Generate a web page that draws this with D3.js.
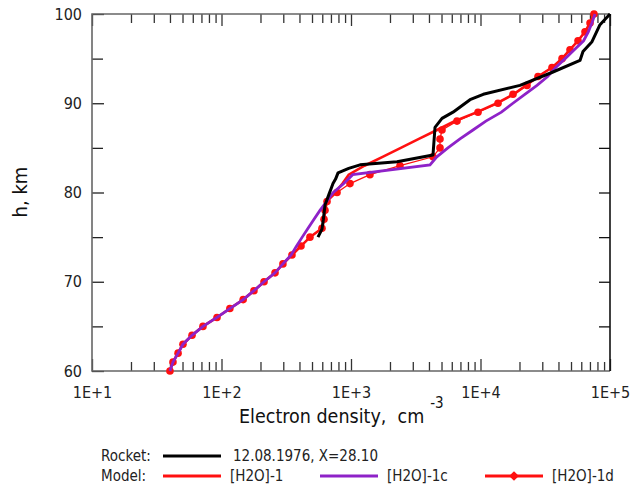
<!DOCTYPE html>
<html>
<head>
<meta charset="utf-8">
<script src="https://cdn.jsdelivr.net/npm/d3@7"></script>
<style>
  body { margin: 0; background: #fff; }
  svg { display: block; }
</style>
</head>
<body>
<div id="chart"></div>
<script>
// Rocket profile, 12.08.1976
const rocketH = [75.0, 75.9, 77.0, 78.6, 79.9, 80.5, 81.0, 81.5, 82.2, 82.7, 83.1, 83.45, 84.2, 87.3, 88.3, 89.0, 90.4, 91.0, 92.0, 93.5, 94.8, 95.8, 96.9, 98.8, 100];
const rocketN = [556, 597, 612, 630, 680, 705, 726, 760, 794, 960, 1174, 2266, 4297, 4453, 5043, 6133, 8298, 10500, 20180, 36290, 58660, 61870, 72610, 83700, 100000];

// Model [H2O]-1
const h2o1H = [60, 61, 62, 63, 64, 65, 66, 67, 68, 69, 70, 71, 72, 73, 74, 75, 76, 77, 78, 79, 80, 81, 82, 83, 84, 85, 86, 87, 88, 89, 90, 91, 92, 93, 94, 95, 96, 97, 98, 99, 100];
const h2o1N = [40, 42.2, 46.2, 50.4, 59.2, 71.9, 92.3, 116, 147, 178, 213, 259, 298, 350, 411, 482, 597, 619, 630, 653, 752, 860, 960, 1271, 1754, 2424, 3342, 4615, 6300, 9397, 13400, 18000, 22500, 27800, 35660, 42590, 49100, 56610, 64120, 70100, 75240];

// Model [H2O]-1c
const h2o1cH = [60, 61, 62, 63, 64, 65, 66, 67, 68, 69, 70, 71, 72, 73, 74, 75, 76, 77, 78, 79, 80, 81, 82, 83.1, 84, 85, 86, 87, 88, 89, 90, 91, 92, 93, 94, 95, 96, 97, 98, 99, 100];
const h2o1cN = [40, 42.2, 46.2, 50.4, 59.2, 71.9, 92.3, 116, 147, 178, 213, 259, 298, 345, 380, 420, 466, 518, 576, 650, 730, 880, 1030, 4074, 4600, 5600, 6945, 8750, 11000, 14500, 17800, 22000, 27300, 33000, 38100, 45000, 53000, 62500, 68000, 72500, 76580];

// Model [H2O]-1d (with markers)
const h2o1dH = [60, 61, 62, 63, 64, 65, 66, 67, 68, 69, 70, 71, 72, 73, 74, 75, 76, 77, 78, 79, 80, 81, 82, 83, 84, 85, 86, 87, 88, 89, 90, 91, 92, 93, 94, 95, 96, 97, 98, 99, 100];
const h2o1dN = [40, 42.2, 46.2, 50.4, 59.2, 71.9, 92.3, 116, 147, 178, 213, 259, 298, 350, 411, 482, 597, 619, 630, 653, 780, 982, 1400, 2390, 4297, 4867, 4867, 5043, 6584, 9566, 13650, 17820, 22870, 27800, 35660, 42590, 49100, 56610, 64120, 70100, 75240];

const xTickValues = [10, 100, 1000, 10000, 100000];
const xTickLabels = ["1E+1", "1E+2", "1E+3", "1E+4", "1E+5"];
const yTickValues = [60, 70, 80, 90, 100];
const yMinorTicks = [65, 75, 85, 95];

const FONT = '"DejaVu Sans Condensed", "DejaVu Sans", sans-serif';
const RED = "#ff1010", PURPLE = "#8e22c8";

const svg = d3.select("#chart").append("svg")
  .attr("width", 631)
  .attr("height", 493)
  .style("font-family", FONT);

const x = d3.scaleLog().domain([10, 1e5]).range([92, 610]);
const y = d3.scaleLinear().domain([60, 100]).range([371, 14]);

const xMinor = x.ticks().filter(d => !xTickValues.includes(d));

function styleAxis(g, stroke) {
  g.select(".domain").remove();
  g.selectAll(".tick line").attr("stroke", stroke).attr("stroke-width", 1.3);
  g.attr("font-family", FONT).attr("font-size", 16);
  g.selectAll(".tick text").attr("fill", "#222");
}

// bottom axis
svg.append("g")
  .attr("transform", `translate(0,${y(60)})`)
  .call(d3.axisBottom(x).tickValues(xMinor).tickSize(-9).tickFormat(""))
  .call(g => styleAxis(g, "#333"));
svg.append("g")
  .attr("transform", `translate(0,${y(60)})`)
  .call(d3.axisBottom(x).tickValues(xTickValues).tickSize(-12).tickPadding(16)
    .tickFormat((d, i) => xTickLabels[i]))
  .call(g => styleAxis(g, "#333"));

// top axis
svg.append("g")
  .attr("transform", `translate(0,${y(100)})`)
  .call(d3.axisTop(x).tickValues(xMinor).tickSize(-9).tickFormat(""))
  .call(g => styleAxis(g, "#333"));
svg.append("g")
  .attr("transform", `translate(0,${y(100)})`)
  .call(d3.axisTop(x).tickValues(xTickValues).tickSize(-12).tickFormat(""))
  .call(g => styleAxis(g, "#333"));

// left axis
svg.append("g")
  .attr("transform", `translate(${x(10)},0)`)
  .call(d3.axisLeft(y).tickValues(yTickValues).tickSize(-12).tickPadding(10).tickFormat(d3.format("d")))
  .call(g => styleAxis(g, "#222"));
svg.append("g")
  .attr("transform", `translate(${x(10)},0)`)
  .call(d3.axisLeft(y).tickValues(yMinorTicks).tickSize(-11).tickFormat(""))
  .call(g => styleAxis(g, "#222"));

// right axis
svg.append("g")
  .attr("transform", `translate(${x(1e5)},0)`)
  .call(d3.axisRight(y).tickValues(yMinorTicks.concat([70, 80, 90])).tickSize(-11).tickFormat(""))
  .call(g => styleAxis(g, "#111"));

// frame
svg.append("path")
  .attr("d", `M${x(1e5)},${y(100)}H${x(10)}V${y(60)}H${x(1e5)}`)
  .attr("fill", "none").attr("stroke", "#666").attr("stroke-width", 1.6);
svg.append("line")
  .attr("x1", x(1e5)).attr("x2", x(1e5)).attr("y1", y(100)).attr("y2", y(60))
  .attr("stroke", "#111").attr("stroke-width", 1.6);

const line = d3.line().x(d => x(d[1])).y(d => y(d[0]));

// [H2O]-1 (thick red)
svg.append("path")
  .datum(d3.zip(h2o1H, h2o1N))
  .attr("d", line).attr("fill", "none").attr("stroke", RED).attr("stroke-width", 2.6);

// [H2O]-1d (thin red + markers)
svg.append("path")
  .datum(d3.zip(h2o1dH, h2o1dN))
  .attr("d", line).attr("fill", "none").attr("stroke", RED).attr("stroke-width", 1.3);
svg.selectAll(".mk")
  .data(d3.zip(h2o1dH, h2o1dN))
  .enter().append("circle")
  .attr("class", "mk")
  .attr("cx", d => x(d[1])).attr("cy", d => y(d[0]))
  .attr("r", 3.8).attr("fill", RED);

// [H2O]-1c (purple)
svg.append("path")
  .datum(d3.zip(h2o1cH, h2o1cN))
  .attr("d", line).attr("fill", "none").attr("stroke", PURPLE).attr("stroke-width", 2.8);

// rocket (black)
svg.append("path")
  .datum(d3.zip(rocketH, rocketN))
  .attr("d", line).attr("fill", "none").attr("stroke", "#000").attr("stroke-width", 3)
  .attr("stroke-linejoin", "round");

// axis titles
svg.append("text")
  .attr("transform", "translate(27,192) rotate(-90)")
  .attr("text-anchor", "middle")
  .attr("font-size", 20)
  .attr("fill", "#111")
  .text("h, km");

const xt = svg.append("text")
  .attr("x", 239).attr("y", 423)
  .attr("font-size", 19.5)
  .attr("fill", "#111")
  .style("white-space", "pre");
xt.append("tspan").text("Electron density,  cm");
xt.append("tspan").attr("dx", 6).attr("dy", -15).attr("font-size", 15).text("-3");

// legend
const legendRows = ["Rocket:", "Model:"];
const legendItems = [
  { row: 0, x: 163, label: "12.08.1976, X=28.10", color: "#000", marker: false },
  { row: 1, x: 163, label: "[H2O]-1", color: RED, marker: false },
  { row: 1, x: 320, label: "[H2O]-1c", color: PURPLE, marker: false },
  { row: 1, x: 485, label: "[H2O]-1d", color: RED, marker: true }
];
const legendY = [456, 476];

svg.selectAll(".lrow")
  .data(legendRows)
  .enter().append("text")
  .attr("x", 101).attr("y", (d, i) => legendY[i] + 5)
  .attr("font-size", 15).attr("fill", "#222")
  .text(d => d);

const li = svg.selectAll(".litem").data(legendItems).enter().append("g");
li.append("line")
  .attr("x1", d => d.x).attr("x2", d => d.x + 58)
  .attr("y1", d => legendY[d.row]).attr("y2", d => legendY[d.row])
  .attr("stroke", d => d.color).attr("stroke-width", 3);
li.filter(d => d.marker).append("path")
  .attr("d", d3.symbol(d3.symbolDiamond2, 60))
  .attr("transform", d => `translate(${d.x + 29},${legendY[d.row]})`)
  .attr("fill", d => d.color);
li.append("text")
  .attr("x", d => d.x + (d.row === 0 ? 70 : 67))
  .attr("y", d => legendY[d.row] + 5)
  .attr("font-size", 15).attr("fill", "#222")
  .text(d => d.label);
</script>
</body>
</html>
